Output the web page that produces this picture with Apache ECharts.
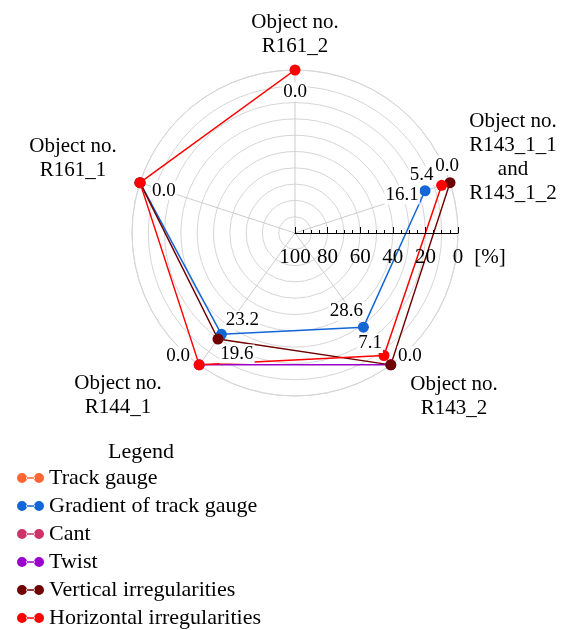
<!DOCTYPE html>
<html>
<head>
<meta charset="utf-8">
<script src="https://cdn.jsdelivr.net/npm/echarts@6/dist/echarts.min.js"></script>
<style>
  html, body { margin: 0; padding: 0; background: #fff; }
  #chart { width: 568px; height: 630px; }
</style>
</head>
<body>
<div id="chart"></div>
<script>
// Objects around the diagram, in drawing order (counter-clockwise from the top)
const objects = ['R161_2', 'R161_1', 'R144_1', 'R143_2', 'R143_1'];
const objectAngles = [90, 162, 234, 306, 18];
const objectTitles = [
  'Object no.\nR161_2',
  'Object no.\nR161_1',
  'Object no.\nR144_1',
  'Object no.\nR143_2',
  'Object no.\nR143_1_1\nand\nR143_1_2'
];

// Share of exceedances [%] per parameter and object (null = no value)
const seriesNames = ['Track gauge', 'Gradient of track gauge', 'Cant', 'Twist',
  'Vertical irregularities', 'Horizontal irregularities'];
const trackGauge = [null, null, null, null, null];
const gradientOfTrackGauge = [null, 0.0, 23.2, 28.6, 16.1];
const cant = [null, null, null, null, null];
const twist = [null, null, 0.0, 0.0, null];
const verticalIrregularities = [null, 0.0, 19.6, 0.0, 0.0];
const horizontalIrregularities = [0.0, 0.0, 0.0, 7.1, 5.4];

const scaleTicks = [100, 80, 60, 40, 20, 0];

const FONT = 'Liberation Serif';
const CENTER = [295, 233];
const RADIUS = 163;

const colors = ['#ff6633', '#1366d6', '#cc3366', '#9900cc', '#6e0000', '#ff0000'];
const values = [trackGauge, gradientOfTrackGauge, cant, twist,
  verticalIrregularities, horizontalIrregularities];

// where each value label sits relative to its point
const labelOffsets = {
  'Gradient of track gauge': [null, null, [21, -14], [-17, -16], [-23, 4]],
  'Vertical irregularities': [null, null, [19, 15], [19, -9], [-3, -17]],
  'Horizontal irregularities': [[0, 22], [24, 8], [-21, -9], [-14, -12], [-20, -10]]
};

function buildData(name, vals) {
  const offs = labelOffsets[name] || [];
  const out = [];
  vals.forEach((v, i) => {
    if (v === null) return;
    const item = { value: [v, objectAngles[i]] };
    if (offs[i]) {
      item.label = { show: true, position: 'inside', offset: offs[i] };
    }
    out.push(item);
  });
  return out;
}

const series = seriesNames.map((name, k) => ({
  type: 'line',
  name: name,
  coordinateSystem: 'polar',
  polarIndex: 1,
  data: buildData(name, values[k]),
  clip: false,
  symbol: 'circle',
  symbolSize: 11,
  showAllSymbol: true,
  lineStyle: { width: 1.5, color: colors[k] },
  itemStyle: { color: colors[k] },
  label: {
    show: false,
    formatter: p => p.value[0].toFixed(1),
    color: '#000',
    fontFamily: FONT,
    fontSize: 19,
    lineHeight: 19,
    backgroundColor: '#fff',
    padding: [0, 1]
  },
  emphasis: { disabled: true },
  animation: false
}));

const titlePos = [[295, 34], [73, 158], [118, 395], [454, 396], [513, 157]];
const graphic = objectTitles.map((t, i) => ({
  type: 'text',
  x: titlePos[i][0],
  y: titlePos[i][1],
  style: {
    text: t,
    fontFamily: FONT,
    fontSize: 21,
    lineHeight: 24,
    fill: '#000',
    align: 'center',
    verticalAlign: 'middle'
  }
}));
graphic.push({
  type: 'text', x: 490, y: 257,
  style: { text: '[%]', fontFamily: FONT, fontSize: 21, fill: '#000', align: 'center', verticalAlign: 'middle' }
});
graphic.push({
  type: 'text', x: 141, y: 452,
  style: { text: 'Legend', fontFamily: FONT, fontSize: 22, fill: '#000', align: 'center', verticalAlign: 'middle' }
});

const chart = echarts.init(document.getElementById('chart'), null, { renderer: 'canvas' });
chart.setOption({
  backgroundColor: '#fff',
  animation: false,
  polar: [
    { center: CENTER, radius: RADIUS },
    { center: CENTER, radius: RADIUS }
  ],
  angleAxis: [
    {
      polarIndex: 0, type: 'value', min: 0, max: 360, interval: 72,
      startAngle: 18, clockwise: false,
      axisLine: { show: true, lineStyle: { color: '#d6d6d6', width: 1 } },
      axisTick: { show: false }, axisLabel: { show: false },
      splitLine: { show: true, lineStyle: { color: '#cdcdcd', width: 1 } }
    },
    {
      polarIndex: 1, type: 'value', min: 0, max: 360,
      startAngle: 0, clockwise: false, show: false
    }
  ],
  radiusAxis: [
    {
      polarIndex: 0, type: 'value', min: 0, max: 100, interval: 10,
      axisLine: { show: false }, axisTick: { show: false }, axisLabel: { show: false },
      splitLine: { show: true, lineStyle: { color: '#d6d6d6', width: 1 } }
    },
    {
      polarIndex: 1, type: 'value', min: 0, max: 100, interval: 20, inverse: true,
      z: 5,
      axisLine: { show: true, lineStyle: { color: '#000', width: 1 } },
      axisTick: { show: true, inside: true, length: 6, lineStyle: { color: '#000', width: 1 } },
      minorTick: { show: true, splitNumber: 4, length: 3, lineStyle: { color: '#000', width: 1 } },
      axisLabel: {
        show: true, color: '#000', fontFamily: FONT, fontSize: 21,
        verticalAlign: 'middle', margin: -24,
        formatter: v => (scaleTicks.indexOf(v) >= 0 ? String(v) : '')
      },
      splitLine: { show: false }
    }
  ],
  legend: {
    orient: 'vertical',
    left: 17,
    top: 467,
    height: 170,
    padding: 0,
    itemWidth: 27,
    itemHeight: 10,
    itemGap: 6,
    selectedMode: false,
    icon: 'path://M0,5a5,5 0 1,0 10,0a5,5 0 1,0 -10,0ZM17,5a5,5 0 1,0 10,0a5,5 0 1,0 -10,0ZM9,4.3H18V5.7H9Z',
    textStyle: { fontFamily: FONT, fontSize: 22, color: '#000', lineHeight: 22 },
    data: seriesNames
  },
  graphic: graphic,
  series: series
});
</script>
</body>
</html>
